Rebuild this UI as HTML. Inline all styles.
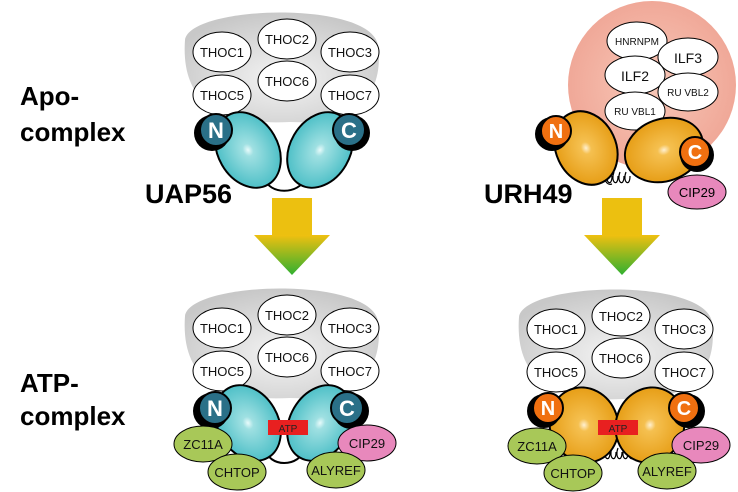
<!DOCTYPE html>
<html><head><style>body{margin:0;background:#fff}svg{display:block}text{font-family:"Liberation Sans",sans-serif}</style></head>
<body>
<svg width="738" height="492" viewBox="0 0 738 492" xmlns="http://www.w3.org/2000/svg">
<defs>
<radialGradient id="gray" cx="50%" cy="60%" r="60%"><stop offset="0" stop-color="#f4f4f4"/><stop offset="1" stop-color="#c8c8c8"/></radialGradient>
<radialGradient id="teal" cx="50%" cy="50%" r="55%"><stop offset="0" stop-color="#e8fbfb"/><stop offset="0.15" stop-color="#9fe0e2"/><stop offset="1" stop-color="#45bcc4"/></radialGradient>
<radialGradient id="orng" cx="50%" cy="50%" r="55%"><stop offset="0" stop-color="#fff0d0"/><stop offset="0.15" stop-color="#f5c050"/><stop offset="1" stop-color="#e59a10"/></radialGradient>
<radialGradient id="pink" cx="50%" cy="50%" r="50%"><stop offset="0" stop-color="#f8c8b8"/><stop offset="1" stop-color="#f0a898"/></radialGradient>
<linearGradient id="arr" x1="0" y1="0" x2="0" y2="1"><stop offset="0" stop-color="#f0c010"/><stop offset="1" stop-color="#30b030"/></linearGradient>
<g id="thoc">
<path d="M185,40 C190,5 370,0 378,45 C385,100 350,125 290,122 C230,125 180,110 185,40Z" fill="url(#gray)"/>
<g fill="#fff" stroke="#000" stroke-width="1">
<ellipse cx="222" cy="52" rx="29" ry="20"/><ellipse cx="287" cy="39" rx="29" ry="20"/><ellipse cx="350" cy="52" rx="29" ry="20"/>
<ellipse cx="222" cy="95" rx="29" ry="20"/><ellipse cx="287" cy="81" rx="29" ry="20"/><ellipse cx="350" cy="95" rx="29" ry="20"/></g>
<g font-size="13" text-anchor="middle" fill="#111">
<text x="222" y="57">THOC1</text><text x="287" y="44">THOC2</text><text x="350" y="57">THOC3</text>
<text x="222" y="100">THOC5</text><text x="287" y="86">THOC6</text><text x="350" y="100">THOC7</text></g>
</g>
<g id="arrow"><rect x="-20" y="0" width="40" height="37" fill="#ecc010"/><path d="M-38,37 H38 L0,77Z" fill="url(#arr)"/></g>
</defs>

<!-- labels -->
<g font-weight="bold" font-size="26" fill="#000">
<text x="20" y="105">Apo-</text><text x="20" y="141">complex</text>
<text x="20" y="392">ATP-</text><text x="20" y="425">complex</text>
<text x="145" y="203" font-size="27">UAP56</text><text x="484" y="203" font-size="27">URH49</text>
</g>

<use href="#arrow" x="292" y="198"/>
<use href="#arrow" x="622" y="198"/>

<!-- top left -->
<use href="#thoc"/>
<path d="M265,178 C268,195 300,195 305,178" fill="none" stroke="#000" stroke-width="2"/>
<ellipse cx="248" cy="150" rx="30" ry="40" transform="rotate(-30 248 150)" fill="url(#teal)" stroke="#000" stroke-width="2"/>
<ellipse cx="320" cy="150" rx="30" ry="40" transform="rotate(30 320 150)" fill="url(#teal)" stroke="#000" stroke-width="2"/>
<circle cx="212" cy="133" r="18" fill="#000"/><circle cx="216" cy="130" r="16" fill="#2a7088" stroke="#000" stroke-width="2"/>
<circle cx="352" cy="133" r="18" fill="#000"/><circle cx="349" cy="130" r="16" fill="#2a7088" stroke="#000" stroke-width="2"/>
<g font-weight="bold" font-size="22" fill="#fff" text-anchor="middle"><text x="216" y="138">N</text><text x="349" y="138">C</text></g>

<!-- top right -->
<circle cx="652" cy="85" r="84" fill="url(#pink)"/>
<g fill="#fff" stroke="#000" stroke-width="1">
<ellipse cx="637" cy="41" rx="30" ry="19"/><ellipse cx="688" cy="57" rx="30" ry="19"/><ellipse cx="635" cy="75" rx="30" ry="19"/>
<ellipse cx="688" cy="92" rx="30" ry="19"/><ellipse cx="635" cy="111" rx="30" ry="19"/></g>
<g font-size="10" text-anchor="middle" fill="#111">
<text x="637" y="45">HNRNPM</text><text x="688" y="63" font-size="14">ILF3</text><text x="635" y="81" font-size="14">ILF2</text>
<text x="688" y="96">RU VBL2</text><text x="635" y="115">RU VBL1</text></g>
<g fill="none" stroke="#000" stroke-width="1.2"><path d="M608,172 c-4,10 4,16 4,4 M614,172 c-4,10 4,16 4,4 M620,172 c-4,10 4,16 4,4 M626,172 c-4,10 4,16 4,4 M604,176 q2,10 8,8"/></g>
<ellipse cx="586" cy="148" rx="30" ry="38" transform="rotate(-25 586 148)" fill="url(#orng)" stroke="#000" stroke-width="2"/>
<ellipse cx="664" cy="150" rx="40" ry="31" transform="rotate(-20 664 150)" fill="url(#orng)" stroke="#000" stroke-width="2"/>
<ellipse cx="697" cy="192" rx="29" ry="17" fill="#e888bc" stroke="#000"/>
<text x="697" y="197" font-size="13" text-anchor="middle">CIP29</text>
<circle cx="552" cy="134" r="17" fill="#000"/><circle cx="556" cy="131" r="15" fill="#f07010" stroke="#000" stroke-width="2"/>
<circle cx="697" cy="155" r="17" fill="#000"/><circle cx="695" cy="152" r="15" fill="#f07010" stroke="#000" stroke-width="2"/>
<g font-weight="bold" font-size="20" fill="#fff" text-anchor="middle"><text x="556" y="138">N</text><text x="695" y="159">C</text></g>

<!-- bottom left -->
<use href="#thoc" y="276"/>
<path d="M265,448 C268,468 300,468 305,448" fill="none" stroke="#000" stroke-width="2"/>
<ellipse cx="248" cy="423" rx="30" ry="40" transform="rotate(-30 248 423)" fill="url(#teal)" stroke="#000" stroke-width="2"/>
<ellipse cx="320" cy="423" rx="30" ry="40" transform="rotate(30 320 423)" fill="url(#teal)" stroke="#000" stroke-width="2"/>
<circle cx="211" cy="411" r="18" fill="#000"/><circle cx="215" cy="408" r="16" fill="#2a7088" stroke="#000" stroke-width="2"/>
<circle cx="351" cy="411" r="18" fill="#000"/><circle cx="347" cy="408" r="16" fill="#2a7088" stroke="#000" stroke-width="2"/>
<g font-weight="bold" font-size="22" fill="#fff" text-anchor="middle"><text x="215" y="416">N</text><text x="347" y="416">C</text></g>
<rect x="268" y="420" width="40" height="15" fill="#e82020"/><text x="288" y="432" font-size="10" fill="#222" text-anchor="middle">ATP</text>
<g stroke="#000" stroke-width="1">
<ellipse cx="203" cy="444" rx="29" ry="18" fill="#a8c858"/><ellipse cx="367" cy="443" rx="29" ry="18" fill="#e888bc"/>
<ellipse cx="237" cy="472" rx="29" ry="18" fill="#a8c858"/><ellipse cx="336" cy="470" rx="29" ry="18" fill="#a8c858"/></g>
<g font-size="13" text-anchor="middle" fill="#111"><text x="203" y="449">ZC11A</text><text x="367" y="448">CIP29</text><text x="237" y="477">CHTOP</text><text x="336" y="475">ALYREF</text></g>

<!-- bottom right -->
<use href="#thoc" x="334" y="277"/>
<g fill="none" stroke="#000" stroke-width="1.2"><path d="M606,448 c-4,10 4,16 4,4 M612,448 c-4,10 4,16 4,4 M618,448 c-4,10 4,16 4,4 M624,448 c-4,10 4,16 4,4 M630,448 c-4,10 4,16 4,4"/></g>
<ellipse cx="584" cy="425" rx="34" ry="38" transform="rotate(-20 584 425)" fill="url(#orng)" stroke="#000" stroke-width="2"/>
<ellipse cx="650" cy="425" rx="34" ry="38" transform="rotate(20 650 425)" fill="url(#orng)" stroke="#000" stroke-width="2"/>
<circle cx="544" cy="411" r="17" fill="#000"/><circle cx="548" cy="408" r="15" fill="#f07010" stroke="#000" stroke-width="2"/>
<circle cx="688" cy="411" r="17" fill="#000"/><circle cx="684" cy="408" r="15" fill="#f07010" stroke="#000" stroke-width="2"/>
<g font-weight="bold" font-size="20" fill="#fff" text-anchor="middle"><text x="548" y="415">N</text><text x="684" y="415">C</text></g>
<rect x="598" y="420" width="40" height="15" fill="#e82020"/><text x="618" y="432" font-size="10" fill="#222" text-anchor="middle">ATP</text>
<g stroke="#000" stroke-width="1">
<ellipse cx="537" cy="446" rx="29" ry="18" fill="#a8c858"/><ellipse cx="701" cy="445" rx="29" ry="18" fill="#e888bc"/>
<ellipse cx="573" cy="473" rx="29" ry="18" fill="#a8c858"/><ellipse cx="667" cy="471" rx="29" ry="18" fill="#a8c858"/></g>
<g font-size="13" text-anchor="middle" fill="#111"><text x="537" y="451">ZC11A</text><text x="701" y="450">CIP29</text><text x="573" y="478">CHTOP</text><text x="667" y="476">ALYREF</text></g>
</svg>
</body></html>
